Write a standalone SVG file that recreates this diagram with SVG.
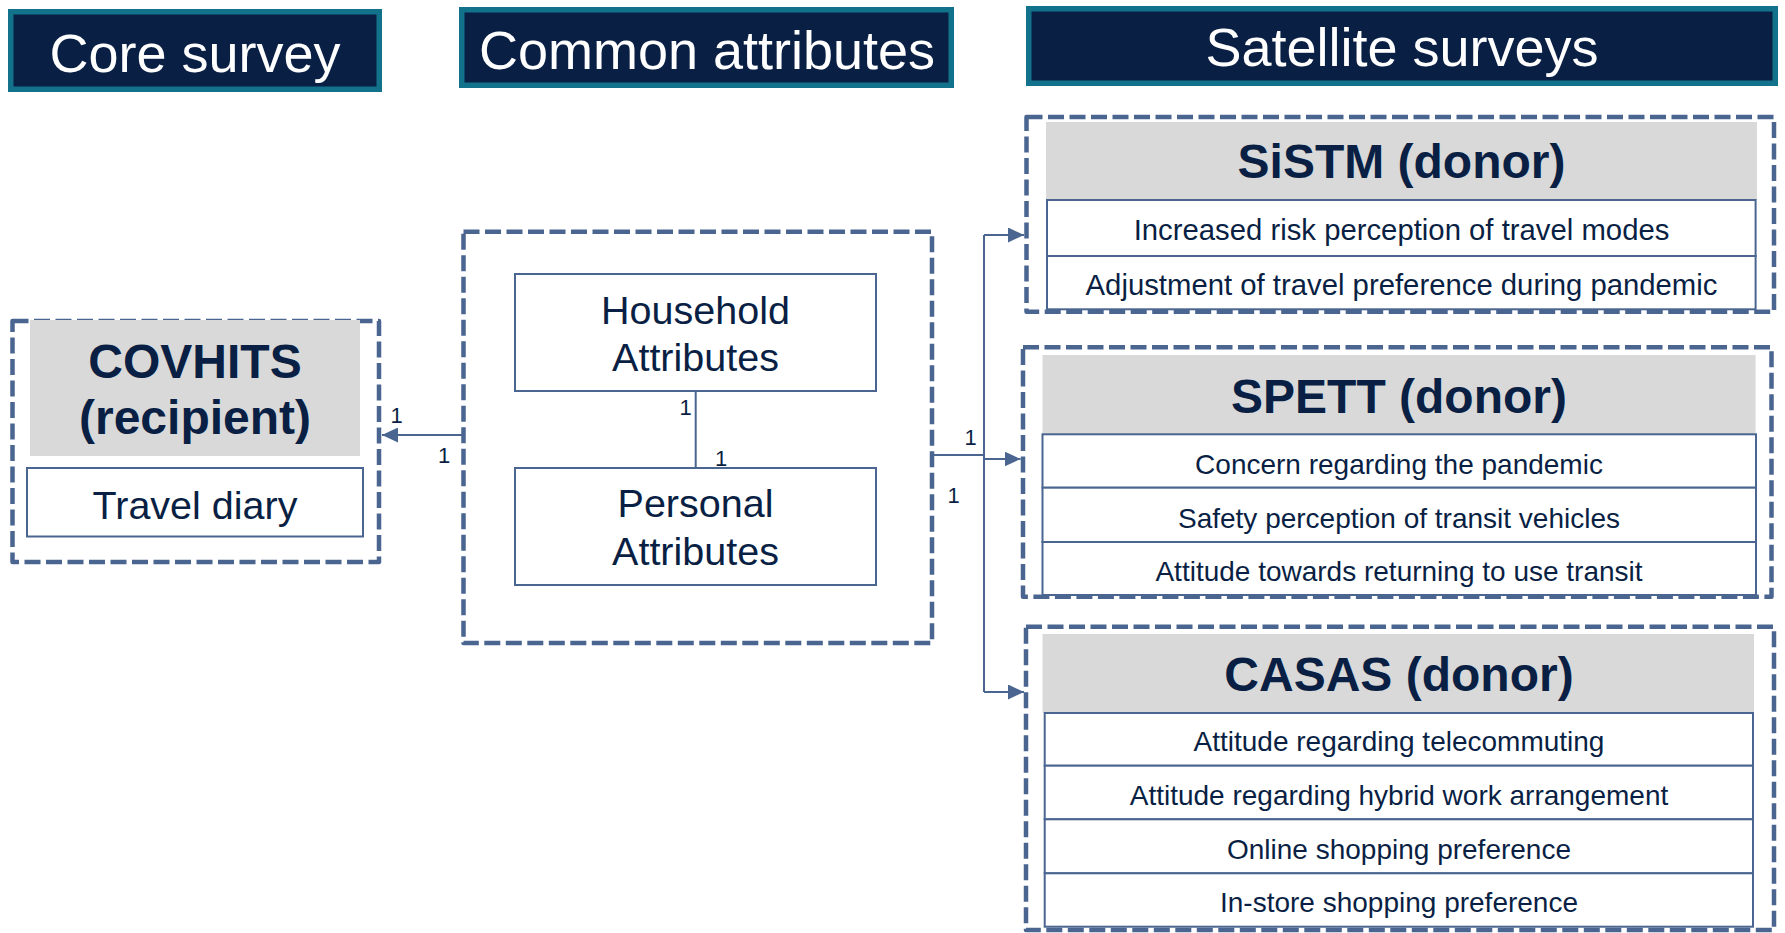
<svg xmlns="http://www.w3.org/2000/svg" width="1785" height="933" viewBox="0 0 1785 933">
  <style>
    .hdr { fill: #0a1f44; stroke: #13728b; stroke-width: 5.5; }
    .hdr-t { font-family: "Liberation Sans", Arial, sans-serif; font-size: 54px; fill: #ffffff; text-anchor: middle; }
    .grp { fill: none; stroke: #4a6690; stroke-width: 4.5; stroke-dasharray: 16 5.5; stroke-linejoin: round; }
    .band { fill: #d9d9d9; }
    .title { font-family: "Liberation Sans", Arial, sans-serif; font-size: 48px; font-weight: bold; fill: #0a1f44; text-anchor: middle; }
    .cell { fill: #ffffff; stroke: #4a6690; stroke-width: 2; }
    .cell-t { font-family: "Liberation Sans", Arial, sans-serif; font-size: 28px; fill: #0a1f44; text-anchor: middle; }
    .cell-t.wide { font-size: 29.3px; }
    .ent-t { font-family: "Liberation Sans", Arial, sans-serif; font-size: 39.5px; fill: #0a1f44; text-anchor: middle; }
    .conn { fill: none; stroke: #4a6690; stroke-width: 2; }
    .card { font-family: "Liberation Sans", Arial, sans-serif; font-size: 22px; fill: #0a1f44; text-anchor: middle; }
  </style>
  <defs>
    <marker id="arrow" markerUnits="userSpaceOnUse" markerWidth="16" markerHeight="15" refX="16" refY="7.5" orient="auto">
      <path d="M0,0 L16,7.5 L0,15 Z" fill="#4a6690"/>
    </marker>
  </defs>

  <!-- column headers -->
  <g id="header-core">
    <rect class="hdr" x="10.75" y="11.75" width="368.5" height="77.5"/>
    <text class="hdr-t" x="195" y="72">Core survey</text>
  </g>
  <g id="header-common">
    <rect class="hdr" x="461.75" y="9.75" width="489.5" height="75.5"/>
    <text class="hdr-t" x="707" y="68.5">Common attributes</text>
  </g>
  <g id="header-satellite">
    <rect class="hdr" x="1028.75" y="8.75" width="746.5" height="74.5"/>
    <text class="hdr-t" x="1402" y="65.5">Satellite surveys</text>
  </g>

  <!-- core survey -->
  <g id="covhits">
    <rect class="grp" x="12.5" y="321" width="366.5" height="241"/>
    <rect class="band" x="30" y="320" width="330" height="136"/>
    <text class="title" x="195" y="377.5">COVHITS</text>
    <text class="title" x="195" y="434">(recipient)</text>
    <rect class="cell" x="27" y="468" width="336" height="68.5"/>
    <text class="ent-t" x="195" y="519">Travel diary</text>
  </g>

  <!-- common attributes -->
  <g id="common">
    <rect class="grp" x="463.5" y="231.7" width="468.5" height="411.3"/>
  </g>
  <g id="household">
    <rect class="cell" x="515" y="274" width="361" height="117"/>
    <text class="ent-t" x="695.5" y="323.5">Household</text>
    <text class="ent-t" x="695.5" y="371">Attributes</text>
  </g>
  <g id="personal">
    <rect class="cell" x="515" y="468" width="361" height="117"/>
    <text class="ent-t" x="695.5" y="517">Personal</text>
    <text class="ent-t" x="695.5" y="564.5">Attributes</text>
  </g>

  <!-- satellite surveys -->
  <g id="sistm">
    <rect class="grp" x="1026.5" y="117" width="747.5" height="194.7"/>
    <rect class="band" x="1046" y="122" width="711" height="78"/>
    <text class="title" x="1401.5" y="177.5">SiSTM (donor)</text>
    <rect class="cell" x="1047" y="200" width="708.6" height="56"/>
    <text class="cell-t wide" x="1401.5" y="239.5">Increased risk perception of travel modes</text>
    <rect class="cell" x="1047" y="256" width="708.6" height="53.3"/>
    <text class="cell-t wide" x="1401.5" y="294.5">Adjustment of travel preference during pandemic</text>
  </g>
  <g id="spett">
    <rect class="grp" x="1023" y="347.3" width="748.5" height="249.4"/>
    <rect class="band" x="1042.5" y="355" width="713.1" height="79.3"/>
    <text class="title" x="1399" y="412.5">SPETT (donor)</text>
    <rect class="cell" x="1042.5" y="434.3" width="713.5" height="53.4"/>
    <text class="cell-t" x="1399" y="474">Concern regarding the pandemic</text>
    <rect class="cell" x="1042.5" y="487.7" width="713.5" height="54.3"/>
    <text class="cell-t" x="1399" y="527.5">Safety perception of transit vehicles</text>
    <rect class="cell" x="1042.5" y="542" width="713.5" height="53"/>
    <text class="cell-t" x="1399" y="581">Attitude towards returning to use transit</text>
  </g>
  <g id="casas">
    <rect class="grp" x="1026" y="626.7" width="748" height="303.3"/>
    <rect class="band" x="1042.5" y="634" width="711.5" height="78.7"/>
    <text class="title" x="1399" y="691">CASAS (donor)</text>
    <rect class="cell" x="1044.7" y="713" width="708.3" height="52.7"/>
    <text class="cell-t" x="1399" y="751">Attitude regarding telecommuting</text>
    <rect class="cell" x="1044.7" y="765.7" width="708.3" height="53.6"/>
    <text class="cell-t" x="1399" y="804.5">Attitude regarding hybrid work arrangement</text>
    <rect class="cell" x="1044.7" y="819.3" width="708.3" height="54"/>
    <text class="cell-t" x="1399" y="858.5">Online shopping preference</text>
    <rect class="cell" x="1044.7" y="873.3" width="708.3" height="53.4"/>
    <text class="cell-t" x="1399" y="912">In-store shopping preference</text>
  </g>

  <!-- connectors and cardinalities -->
  <g id="connectors">
    <path class="conn" d="M464,435 H382" marker-end="url(#arrow)"/>
    <path class="conn" d="M695.7,391 V468"/>
    <path class="conn" d="M932,455 H984"/>
    <path class="conn" d="M984,235 V692"/>
    <path class="conn" d="M984,235 H1024" marker-end="url(#arrow)"/>
    <path class="conn" d="M984,459 H1020.5" marker-end="url(#arrow)"/>
    <path class="conn" d="M984,692 H1024" marker-end="url(#arrow)"/>
    <text class="card" x="396.5" y="423">1</text>
    <text class="card" x="444" y="463">1</text>
    <text class="card" x="685.5" y="415">1</text>
    <text class="card" x="721" y="466">1</text>
    <text class="card" x="970.5" y="445">1</text>
    <text class="card" x="953.5" y="503">1</text>
  </g>
</svg>
